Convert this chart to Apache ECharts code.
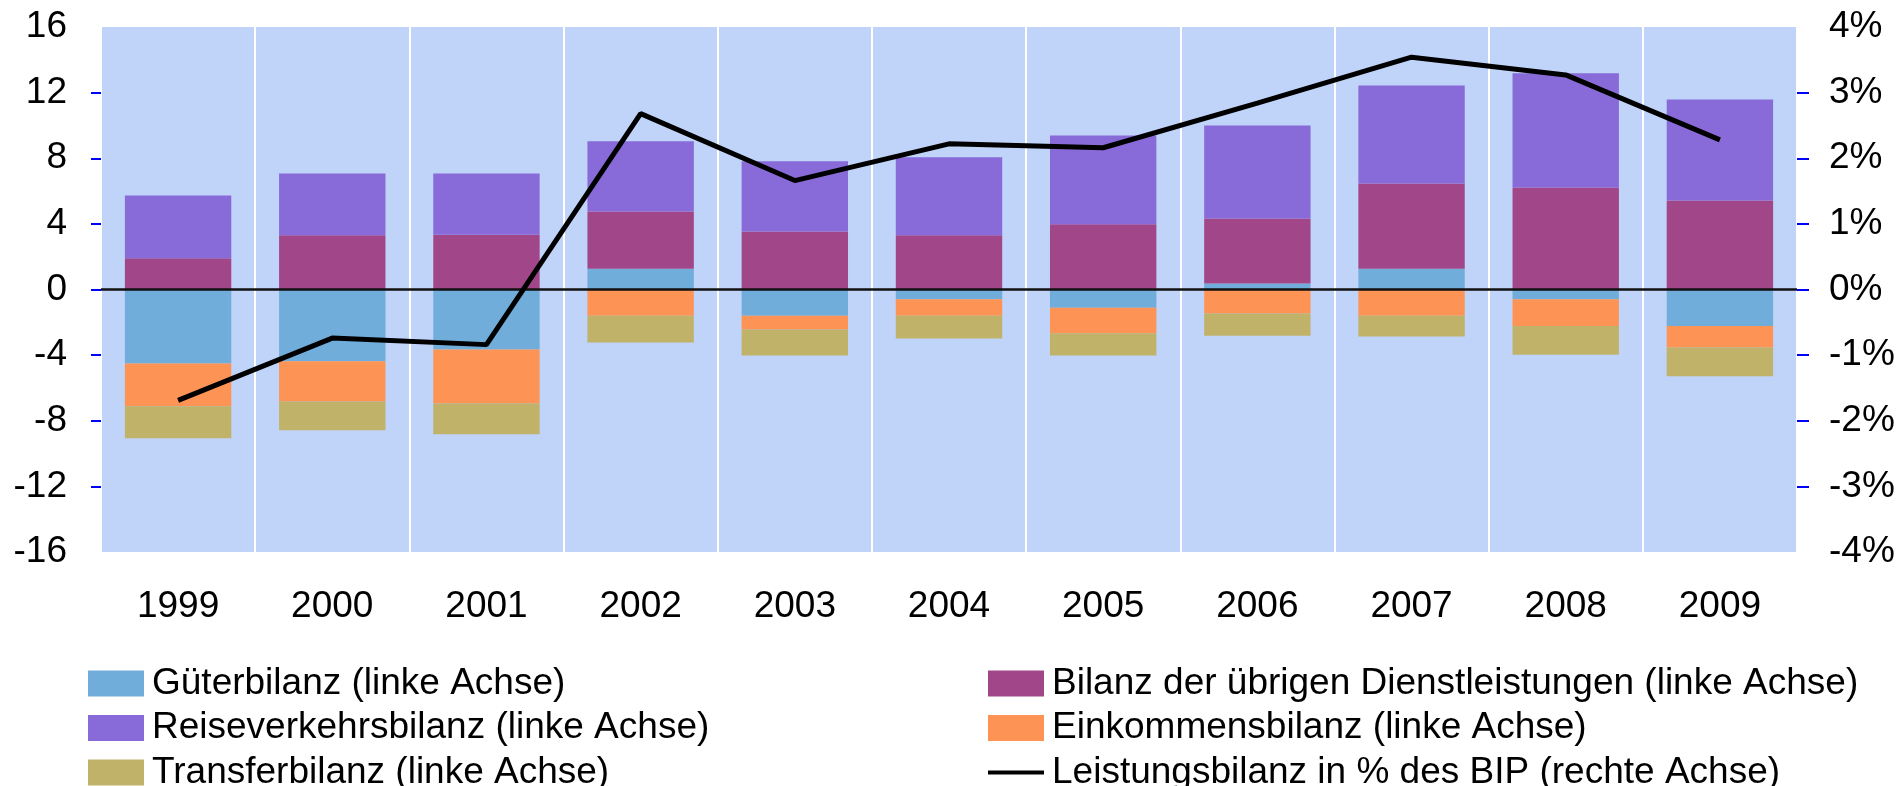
<!DOCTYPE html>
<html>
<head>
<meta charset="utf-8">
<script src="https://cdn.jsdelivr.net/npm/echarts@6/dist/echarts.min.js"></script>
<style>
  html, body { margin: 0; padding: 0; background: #fff; }
  #chart { width: 1899px; height: 786px; }
</style>
</head>
<body>
<div id="chart"></div>
<script>
  // Jahre
  const years = ['1999', '2000', '2001', '2002', '2003', '2004', '2005', '2006', '2007', '2008', '2009'];
  // Teilbilanzen (linke Achse)
  const gueter = [-4.51, -4.38, -3.66, 1.26, -1.60, -0.59, -1.11, 0.36, 1.26, -0.59, -2.23];
  const dienst = [1.90, 3.30, 3.34, 3.50, 3.54, 3.30, 3.97, 3.97, 5.20, 6.21, 5.42];
  const reise = [3.83, 3.77, 3.73, 4.27, 4.27, 4.76, 5.42, 5.67, 5.98, 6.97, 6.16];
  const einkommen = [-2.60, -2.44, -3.29, -1.60, -0.84, -1.01, -1.55, -1.47, -1.60, -1.64, -1.31];
  const transfer = [-1.96, -1.76, -1.88, -1.63, -1.58, -1.38, -1.36, -1.35, -1.27, -1.74, -1.74];
  // Leistungsbilanz in % des BIP (rechte Achse)
  const leistung = [-1.69, -0.74, -0.84, 2.68, 1.66, 2.22, 2.16, 2.84, 3.54, 3.27, 2.28];
  // Achsenticks
  const leftTicks = [-12, -8, -4, 0, 4, 8, 12];
  const rightTicks = [-3, -2, -1, 0, 1, 2, 3];

  const font = 'Liberation Sans';
  const txt = { color: '#000', fontSize: 37, fontFamily: font };

  function bar(name, data, color) {
    return {
      name: name,
      type: 'bar',
      stack: 'total',
      barCategoryGap: '31%',
      itemStyle: { color: color },
      data: data
    };
  }

  const series = [
    bar('Güterbilanz (linke Achse)', gueter, '#70ADDA'),
    bar('Bilanz der übrigen Dienstleistungen (linke Achse)', dienst, '#A2468A'),
    bar('Reiseverkehrsbilanz (linke Achse)', reise, '#886BD8'),
    bar('Einkommensbilanz (linke Achse)', einkommen, '#FD9455'),
    bar('Transferbilanz (linke Achse)', transfer, '#C0B268'),
    {
      name: 'Leistungsbilanz in % des BIP (rechte Achse)',
      type: 'line',
      yAxisIndex: 1,
      symbol: 'none',
      z: 10,
      lineStyle: { color: '#000', width: 5 },
      itemStyle: { color: '#000' },
      data: leistung
    }
  ];
  // Nulllinie
  series[0].markLine = {
    silent: true,
    symbol: 'none',
    label: { show: false },
    lineStyle: { color: '#111', width: 2.5, type: 'solid' },
    data: [{ yAxis: 0 }]
  };

  const legendText = Object.assign({}, txt, { padding: [0, 0, 0, 3] });

  const option = {
    backgroundColor: '#fff',
    animation: false,
    grid: {
      show: true,
      left: 101,
      right: 102,
      top: 27,
      bottom: 234,
      backgroundColor: '#C0D3F8',
      borderWidth: 0
    },
    legend: [
      {
        orient: 'vertical',
        left: 88,
        top: 665,
        height: 300,
        itemWidth: 56,
        itemHeight: 26,
        itemGap: 7.5,
        padding: 0,
        icon: 'rect',
        textStyle: legendText,
        data: ['Güterbilanz (linke Achse)', 'Reiseverkehrsbilanz (linke Achse)', 'Transferbilanz (linke Achse)']
      },
      {
        orient: 'vertical',
        left: 988,
        top: 665,
        height: 300,
        itemWidth: 56,
        itemHeight: 26,
        itemGap: 7.5,
        padding: 0,
        icon: 'rect',
        textStyle: legendText,
        data: ['Bilanz der übrigen Dienstleistungen (linke Achse)', 'Einkommensbilanz (linke Achse)']
      },
      {
        orient: 'vertical',
        left: 988,
        top: 754,
        height: 100,
        itemWidth: 56,
        itemHeight: 4,
        itemGap: 0,
        padding: 0,
        icon: 'rect',
        textStyle: legendText,
        data: ['Leistungsbilanz in % des BIP (rechte Achse)']
      }
    ],
    xAxis: {
      type: 'category',
      data: years,
      axisLine: { show: false },
      axisTick: { show: false },
      splitLine: { show: true, interval: 0, lineStyle: { color: '#fff', width: 2 } },
      axisLabel: Object.assign({ margin: 36, interval: 0 }, txt)
    },
    yAxis: [
      {
        type: 'value',
        min: -16,
        max: 16,
        interval: 4,
        axisLine: { show: false },
        splitLine: { show: false },
        axisTick: {
          show: true,
          length: 10,
          customValues: leftTicks,
          lineStyle: { color: '#0000FF', width: 2 }
        },
        axisLabel: Object.assign({ margin: 34 }, txt)
      },
      {
        type: 'value',
        min: -4,
        max: 4,
        interval: 1,
        axisLine: { show: false },
        splitLine: { show: false },
        axisTick: {
          show: true,
          length: 12,
          customValues: rightTicks,
          lineStyle: { color: '#0000FF', width: 2 }
        },
        axisLabel: Object.assign({ margin: 32, formatter: '{value}%' }, txt)
      }
    ],
    series: series
  };

  const chart = echarts.init(document.getElementById('chart'));
  chart.setOption(option);
  window.addEventListener('resize', () => chart.resize());
</script>
</body>
</html>
